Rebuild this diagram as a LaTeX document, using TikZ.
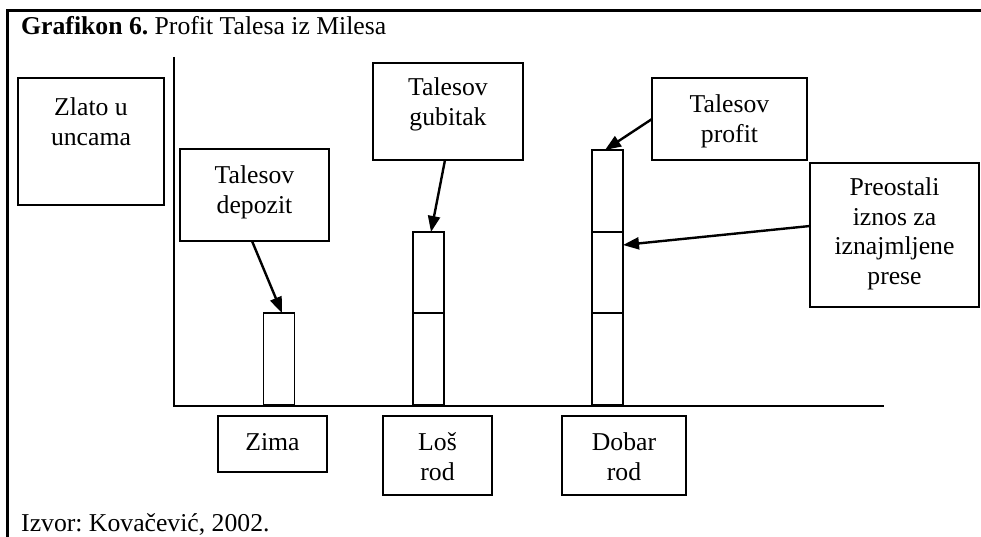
\documentclass[tikz,border=0pt]{standalone}
\usepackage{fontspec}
\setmainfont{Liberation Serif}
\usetikzlibrary{arrows.meta}
\frenchspacing
\begin{document}
\begin{tikzpicture}[x=1pt,y=-1pt,
  frame/.style={line width=2.5pt},
  axis/.style={line width=2pt},
  box/.style={draw,line width=1.8pt,inner sep=0pt,outer sep=0pt},
  bar/.style={draw,line width=1.6pt,inner sep=0pt,outer sep=0pt,minimum width=31pt},
  lbl/.style={anchor=north,align=center,inner sep=0pt,font=\fontsize{25.7}{29.5}\selectfont},
  plain/.style={anchor=base west,inner sep=0pt,font=\fontsize{25.7}{29.5}\selectfont},
  pointer/.style={line width=2.4pt,-{Triangle[length=16pt,width=12pt]}}]
\useasboundingbox (0,0) rectangle (981,537);
\fill[white] (0,0) rectangle (981,537);

% outer frame (top and left edges)
\draw[frame] (981,10.5) -| (7.5,537);

% title and source
\node[plain] (title) at (21,35) {\textbf{Grafikon 6.} Profit Talesa iz Milesa};
\node[plain] (source) at (21,531) {Izvor: Kovačević, 2002.};

% axes
\coordinate (ytop) at (174,57);
\coordinate (origin) at (174,405.5);
\coordinate (xend) at (884,405.5);
\draw[axis] (ytop) -- (origin) -- (xend);

% y-axis caption
\node[box,minimum width=146pt,minimum height=127pt] (zlato) at (91,141.5) {};
\node[lbl] (zlatoT) at (91,97.6) {Zlato u\\uncama};

% bars
\node[bar,minimum height=92pt] (b1) at (279,359) {};
\node[bar,minimum height=81pt] (b2t) at (428.5,272.5) {};
\node[bar,minimum height=92pt] (b2b) at (428.5,359) {};
\node[bar,minimum height=82pt] (b3t) at (607.5,191) {};
\node[bar,minimum height=81pt] (b3m) at (607.5,272.5) {};
\node[bar,minimum height=92pt] (b3b) at (607.5,359) {};

% callout boxes
\node[box,minimum width=149pt,minimum height=92pt] (dep) at (254.5,195) {};
\node[lbl] (depT) at (254.5,165.6) {Talesov\\depozit};

\node[box,minimum width=150pt,minimum height=97pt] (gub) at (448,111.5) {};
\node[lbl] (gubT) at (448,77.6) {Talesov\\gubitak};

\node[box,minimum width=155pt,minimum height=82pt] (prof) at (729.5,119) {};
\node[lbl] (profT) at (729.5,94.6) {Talesov\\profit};

\node[box,minimum width=169pt,minimum height=144pt] (pres) at (894.5,235) {};
\node[lbl] (presT) at (894.5,177.6) {Preostali\\iznos za\\iznajmljene\\prese};

% category boxes
\node[box,minimum width=109pt,minimum height=56pt] (zima) at (272.5,444) {};
\node[lbl] (zimaT) at (272.5,433.6) {Zima};

\node[box,minimum width=109pt,minimum height=79pt] (los) at (437.5,455.5) {};
\node[lbl] (losT) at (437.5,432.6) {Loš\\rod};

\node[box,minimum width=124pt,minimum height=79pt] (dobar) at (624,455.5) {};
\node[lbl] (dobarT) at (624,432.6) {Dobar\\rod};

% pointers
\draw[pointer] ([xshift=-2.5pt]dep.south) -- ([xshift=3pt]b1.north);
\draw[pointer] ([xshift=-3pt]gub.south) -- ([xshift=2.5pt]b2t.north);
\draw[pointer] (prof.west) -- ([xshift=-2.5pt]b3t.north);
\draw[pointer] ([yshift=9pt]pres.west) -- ([yshift=-13pt]b3m.north east);
\end{tikzpicture}
\end{document}
